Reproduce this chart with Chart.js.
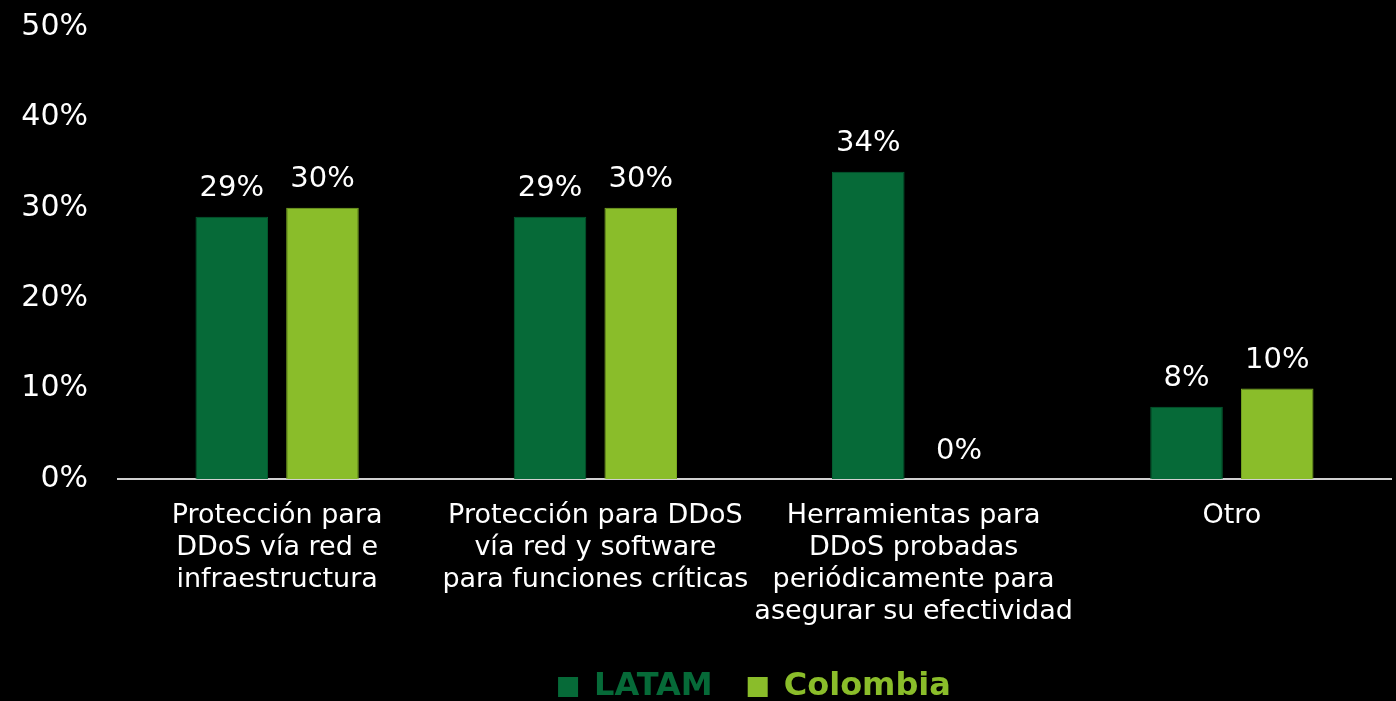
<!DOCTYPE html>
<html>
<head>
<meta charset="utf-8">
<script src="https://cdn.jsdelivr.net/npm/chart.js@4"></script>
<style>
  html, body { margin: 0; padding: 0; background: #000; }
  #wrap { width: 1396px; height: 701px; position: relative; }
</style>
</head>
<body>
<div id="wrap"><canvas id="chart"></canvas></div>
<script>
// categories (one array of lines per label)
const categories = [
    ['Protección para', 'DDoS vía red e', 'infraestructura'],
    ['Protección para DDoS', 'vía red y software', 'para funciones críticas'],
    ['Herramientas para', 'DDoS probadas', 'periódicamente para', 'asegurar su efectividad'],
    ['Otro']
];
const seriesNames = ['LATAM', 'Colombia'];
const latamValues = [29, 29, 34, 8];
const colombiaValues = [30, 30, 0, 10];
const yMin = 0;
const yMax = 50;
const yStep = 10;

const darkGreen = '#066a38';
const lightGreen = '#8abd2a';
const fontFamily = '"DejaVu Sans", Verdana, sans-serif';

// draws the "29%" style labels above each bar
const valueLabels = {
    id: 'valueLabels',
    afterDatasetsDraw: function(chart) {
        const ctx = chart.ctx;
        ctx.save();
        ctx.font = '29px ' + fontFamily;
        ctx.fillStyle = '#ffffff';
        ctx.textAlign = 'center';
        ctx.textBaseline = 'middle';
        chart.data.datasets.forEach(function(ds, i) {
            const meta = chart.getDatasetMeta(i);
            meta.data.forEach(function(bar, j) {
                ctx.fillText(ds.data[j] + '%', bar.x, bar.y - 28);
            });
        });
        ctx.restore();
    }
};

const ctx = document.getElementById('chart').getContext('2d');
new Chart(ctx, {
    type: 'bar',
    data: {
        labels: categories,
        datasets: [{
            label: seriesNames[0],
            data: latamValues,
            backgroundColor: darkGreen,
            borderColor: '#055c30',
            borderWidth: 1,
            categoryPercentage: 0.57,
            barPercentage: 0.8
        }, {
            label: seriesNames[1],
            data: colombiaValues,
            backgroundColor: lightGreen,
            borderColor: '#7aa824',
            borderWidth: 1,
            categoryPercentage: 0.57,
            barPercentage: 0.8
        }]
    },
    options: {
        responsive: true,
        maintainAspectRatio: false,
        animation: false,
        layout: {
            padding: { left: 0, right: 5, top: 0, bottom: -12 }
        },
        plugins: {
            tooltip: { enabled: false },
            legend: {
                position: 'bottom',
                fullSize: false,
                labels: {
                    color: '#ffffff',
                    font: { family: fontFamily, size: 32, weight: 'bold' },
                    boxWidth: 20,
                    boxHeight: 20,
                    padding: 35,
                    generateLabels: function(chart) {
                        return chart.data.datasets.map(function(ds, i) {
                            return {
                                text: ds.label,
                                fillStyle: ds.backgroundColor,
                                strokeStyle: ds.backgroundColor,
                                lineWidth: 0,
                                fontColor: ds.backgroundColor,
                                hidden: false,
                                datasetIndex: i
                            };
                        });
                    }
                }
            }
        },
        scales: {
            x: {
                grid: { display: false, drawTicks: false },
                border: { display: true, color: '#d0d0d0', width: 2 },
                ticks: {
                    color: '#ffffff',
                    font: { family: fontFamily, size: 27, lineHeight: 1.185 },
                    padding: 21,
                    maxRotation: 0,
                    autoSkip: false
                },
                afterFit: function(scale) { scale.height = 157; }
            },
            y: {
                min: yMin,
                max: yMax,
                grid: { display: false, drawTicks: false },
                border: { display: false },
                ticks: {
                    stepSize: yStep,
                    color: '#ffffff',
                    font: { family: fontFamily, size: 30 },
                    padding: 30,
                    callback: function(v) { return v + '%'; }
                },
                afterFit: function(scale) {
                    scale.width = 118;
                    scale.paddingTop = 27;
                    scale.paddingBottom = 20;
                }
            }
        }
    },
    plugins: [valueLabels]
});
</script>
</body>
</html>
